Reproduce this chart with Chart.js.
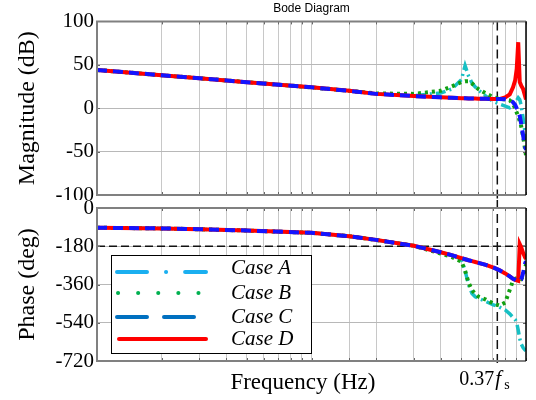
<!DOCTYPE html>
<html>
<head>
<meta charset="utf-8">
<script src="https://cdn.jsdelivr.net/npm/chart.js@4.4.1/dist/chart.umd.min.js"></script>
<style>
  html, body { margin: 0; padding: 0; background: #fff; }
  #wrap { position: relative; width: 536px; height: 400px; }
  #wrap canvas { position: absolute; left: 0; }
</style>
</head>
<body>
<div id="wrap">
  <canvas id="mag" width="536" height="200" style="top:0"></canvas>
  <canvas id="phase" width="536" height="200" style="top:200px"></canvas>
</div>
<script>
// frequency grid (axis spans two decades, no tick labels in the original)
const freq = [10, 20, 30, 50, 100, 150, 200, 300, 400, 450, 500, 520, 540, 560, 580, 600,
              650, 700, 750, 800, 840, 870, 890, 905, 920, 935, 950, 970, 990, 1000];

// magnitude (dB)
const magA = [44, 38, 34.5, 30, 24, 20, 16.5, 14.5, 17.5, 22, 33, 49, 37, 29, 24.5, 21,
              14, 8, 5, 2.5, 0.5, 2, 6, 9, 12, 10, 3, -12, -28, -35];
const magB = [44, 38, 34.5, 30, 24, 20, 17, 16.5, 20, 25, 30, 31, 31, 28.5, 25, 22,
              17, 13, 11, 10, 9, 5, 0, -5, -9, -15, -21, -33, -47, -54];
const magC = [44, 38, 34.5, 30, 24, 20, 16.5, 14, 12.5, 12, 11.5, 11.4, 11.3, 11.2, 11.1, 11,
              10.8, 10.6, 10.5, 10.3, 9.5, 7, 4, 0, -4, -9, -18, -32, -44, -48];
const magD = [44, 38, 34.5, 30, 24, 20, 16.5, 14, 12.5, 12, 11.5, 11.4, 11.3, 11.2, 11.1, 11,
              10.8, 10.6, 10.5, 12.5, 16, 24, 32, 45, 76, 30, 26, 22, 14, 10];

// phase (deg)
const phA = [-93, -96, -100, -106, -117, -133, -150, -178, -208, -222, -242, -295, -362, -402, -418, -425,
             -440, -455, -466, -480, -498, -515, -525, -540, -575, -615, -640, -658, -668, -672];
const phB = [-93, -96, -100, -106, -117, -133, -150, -178, -214, -230, -252, -295, -352, -386, -405, -417,
             -431, -448, -459, -445, -385, -340, -333, -331, -330, -331, -334, -320, -285, -265];
const phC = [-93, -96, -100, -106, -117, -133, -150, -178, -208, -222, -236, -241, -246, -250, -254, -258,
             -268, -279, -292, -308, -322, -333, -338, -342, -344, -343, -337, -305, -262, -250];
const phD = [-93, -96, -100, -106, -117, -133, -150, -178, -208, -222, -236, -241, -246, -250, -254, -258,
             -268, -279, -292, -308, -322, -333, -338, -341, -343, -170, -185, -212, -232, -240];

const caseNames = ['Case A', 'Case B', 'Case C', 'Case D'];
const magTicks = [100, 50, 0, -50, -100];
const phaseTicks = [0, -180, -360, -540, -720];
const markFreq = 735;     // 0.37 fs
const refPhase = -180;

const SERIF = "'Liberation Serif', 'Times New Roman', serif";
const SANS = "'Liberation Sans', Arial, sans-serif";

// line looks in the plot
const lineStyle = [
  { color: '#17c0c4', dash: [10, 4, 2, 4], width: 3.5, order: 3 },
  { color: '#12a012', dash: [3, 4], width: 4, order: 2 },
  { color: '#1414ff', dash: [10, 6], width: 4, order: 0 },
  { color: '#ff0000', dash: [], width: 4, order: 1 }
];
// line looks in the legend
const legendStyle = [
  { color: '#1aaff0', dash: [30, 19, 0.1, 19], x0: 117, x1: 206 },
  { color: '#00b050', dash: [0.1, 20], x0: 118, x1: 200 },
  { color: '#0070c0', dash: [30, 17], x0: 117, x1: 195 },
  { color: '#ff0000', dash: [], x0: 119, x1: 206 }
];

function makeDatasets(series) {
  return series.map((vals, i) => ({
    label: caseNames[i],
    data: freq.map((f, k) => ({ x: f, y: vals[k] })),
    borderColor: lineStyle[i].color,
    borderDash: lineStyle[i].dash,
    borderWidth: lineStyle[i].width,
    order: lineStyle[i].order,
    pointRadius: 0,
    tension: 0,
    fill: false
  }));
}

// frame with small inner tick marks
const framePlugin = {
  id: 'frame',
  afterDatasetsDraw(chart) {
    const { ctx, chartArea: a, scales } = chart;
    ctx.save();
    ctx.strokeStyle = '#666';
    ctx.lineWidth = 1;
    ctx.beginPath();
    scales.x.ticks.forEach(t => {
      const px = Math.round(scales.x.getPixelForValue(t.value)) + 0.5;
      ctx.moveTo(px, a.top); ctx.lineTo(px, a.top + 3);
      ctx.moveTo(px, a.bottom); ctx.lineTo(px, a.bottom - 3);
    });
    scales.y.ticks.forEach(t => {
      const py = Math.round(scales.y.getPixelForValue(t.value)) + 0.5;
      ctx.moveTo(a.left, py); ctx.lineTo(a.left + 3, py);
      ctx.moveTo(a.right, py); ctx.lineTo(a.right - 3, py);
    });
    ctx.stroke();
    ctx.strokeStyle = '#808080';
    ctx.lineWidth = 2;
    ctx.beginPath();
    ctx.moveTo(a.right, a.top);
    ctx.lineTo(a.left, a.top);
    ctx.lineTo(a.left, a.bottom);
    ctx.lineTo(a.right, a.bottom);
    ctx.stroke();
    ctx.strokeStyle = '#000';
    ctx.lineWidth = 1.5;
    ctx.beginPath();
    ctx.moveTo(a.right, a.top);
    ctx.lineTo(a.right, a.bottom);
    ctx.stroke();
    ctx.restore();
  }
};

// dashed marker lines (0.37 fs and -180 deg)
const markerPlugin = {
  id: 'markers',
  beforeDatasetsDraw(chart, args, opts) {
    const { ctx, chartArea: a, scales } = chart;
    const px = scales.x.getPixelForValue(markFreq);
    ctx.save();
    ctx.strokeStyle = '#111';
    ctx.lineWidth = 1.5;
    ctx.setLineDash([9, 5]);
    ctx.beginPath();
    ctx.moveTo(px, opts.top === 'canvas' ? 0 : a.top);
    ctx.lineTo(px, opts.bottom === 'canvas' ? chart.height : a.bottom + 3);
    ctx.stroke();
    if (opts.phase) {
      const py = scales.y.getPixelForValue(refPhase);
      ctx.lineWidth = 1.3;
      ctx.setLineDash([8, 4]);
      ctx.beginPath();
      ctx.moveTo(a.left, py);
      ctx.lineTo(a.right, py);
      ctx.stroke();
    }
    ctx.restore();
  }
};

// boxed legend and the 0.37 fs label
const legendPlugin = {
  id: 'boxLegend',
  afterDraw(chart) {
    const { ctx, scales } = chart;
    const bx = 111, by = 55, bw = 200, bh = 98;
    ctx.save();
    ctx.fillStyle = '#fff';
    ctx.fillRect(bx, by, bw, bh);
    ctx.strokeStyle = '#000';
    ctx.lineWidth = 1;
    ctx.strokeRect(bx + 0.5, by + 0.5, bw, bh);
    const lineY = [72, 93, 117, 139];
    const textY = [68, 93, 117, 139];
    caseNames.forEach((name, i) => {
      const s = legendStyle[i];
      ctx.strokeStyle = s.color;
      ctx.lineWidth = 4;
      ctx.lineCap = 'round';
      ctx.setLineDash(s.dash);
      ctx.beginPath();
      ctx.moveTo(s.x0, lineY[i]);
      ctx.lineTo(s.x1, lineY[i]);
      ctx.stroke();
      ctx.setLineDash([]);
      ctx.fillStyle = '#000';
      ctx.font = 'italic 21px ' + SERIF;
      ctx.textBaseline = 'middle';
      ctx.textAlign = 'left';
      ctx.fillText(name, 231, textY[i]);
    });
    // 0.37 fs label at the marker line
    const px = scales.x.getPixelForValue(markFreq);
    ctx.fillStyle = '#000';
    ctx.textBaseline = 'alphabetic';
    ctx.textAlign = 'right';
    ctx.font = '20px ' + SERIF;
    ctx.fillText('0.37', px - 3, 185);
    ctx.textAlign = 'left';
    ctx.font = 'italic 21px ' + SERIF;
    ctx.fillText('f', px - 2, 185);
    ctx.font = '14px ' + SERIF;
    ctx.fillText('s', px + 7, 189);
    ctx.restore();
  }
};

function makeOptions(cfg) {
  return {
    responsive: false,
    animation: false,
    events: [],
    layout: { padding: { top: cfg.padTop, right: 10, left: 0, bottom: 0 } },
    plugins: {
      legend: { display: false },
      tooltip: { enabled: false },
      title: cfg.title ? {
        display: true,
        text: cfg.title,
        fullSize: false,
        color: '#000',
        font: { family: SANS, size: 12, weight: 'normal' },
        padding: { top: 1, bottom: 6 }
      } : { display: false },
      markers: cfg.markers
    },
    scales: {
      x: {
        type: 'logarithmic',
        min: 10,
        max: 1000,
        ticks: { display: false },
        grid: { color: '#c8c8c8', lineWidth: 1, drawTicks: false },
        border: { display: false },
        title: cfg.xTitle ? {
          display: true,
          text: cfg.xTitle,
          color: '#000',
          font: { family: SERIF, size: 23 },
          padding: { top: 0, bottom: 3 }
        } : { display: false },
        afterFit: s => { s.height = cfg.xHeight; s.paddingLeft = 0; s.paddingRight = 0; }
      },
      y: {
        min: cfg.ticks[cfg.ticks.length - 1],
        max: cfg.ticks[0],
        afterBuildTicks: s => { s.ticks = cfg.ticks.map(v => ({ value: v })); },
        ticks: { color: '#000', font: { family: SERIF, size: 21 }, padding: 3 },
        grid: { color: '#b8b8b8', lineWidth: 1, drawTicks: false },
        border: { display: false },
        title: {
          display: true,
          text: cfg.yTitle,
          color: '#000',
          font: { family: SERIF, size: 24 },
          padding: { top: 13, bottom: 0 }
        },
        afterFit: s => { s.width = 97; s.paddingTop = 0; s.paddingBottom = 0; }
      }
    }
  };
}

new Chart(document.getElementById('mag'), {
  type: 'line',
  data: { datasets: makeDatasets([magA, magB, magC, magD]) },
  options: makeOptions({
    padTop: 0, title: 'Bode Diagram', xHeight: 5,
    ticks: magTicks, yTitle: 'Magnitude (dB)',
    markers: { top: 'area', bottom: 'canvas', phase: false }
  }),
  plugins: [markerPlugin, framePlugin]
});

new Chart(document.getElementById('phase'), {
  type: 'line',
  data: { datasets: makeDatasets([phA, phB, phC, phD]) },
  options: makeOptions({
    padTop: 8, title: null, xHeight: 39, xTitle: 'Frequency (Hz)   ',
    ticks: phaseTicks, yTitle: 'Phase (deg)',
    markers: { top: 'canvas', bottom: 'area', phase: true }
  }),
  plugins: [markerPlugin, framePlugin, legendPlugin]
});
</script>
</body>
</html>
